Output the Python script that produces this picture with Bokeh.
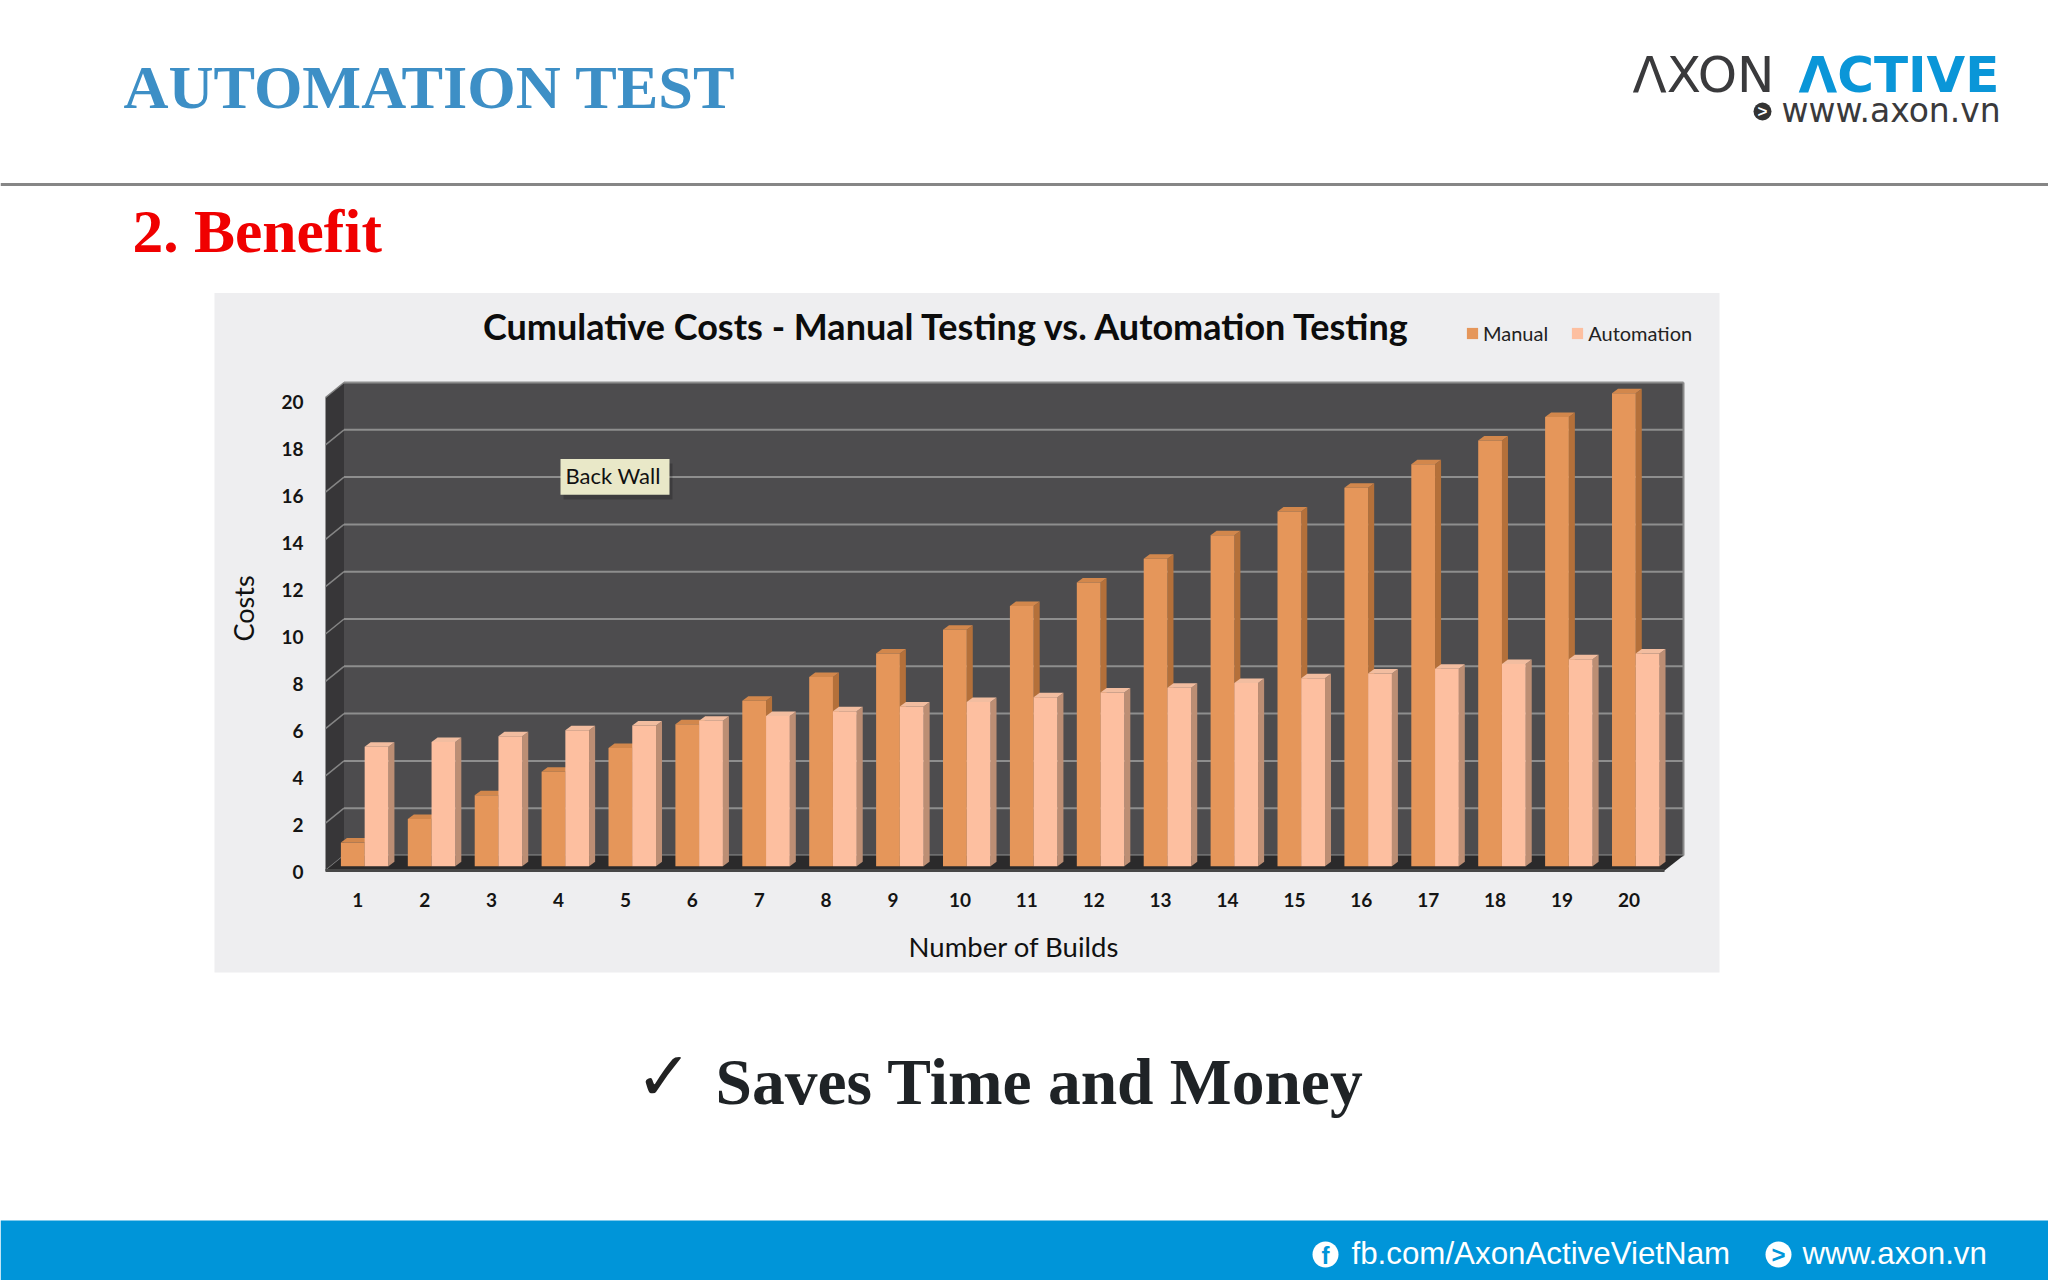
from bokeh.plotting import figure
from bokeh.models import Label, BoxAnnotation, Legend, LegendItem, FixedTicker, Range1d
from bokeh.embed import file_html
from bokeh.resources import INLINE

builds = list(range(1, 21))
manual = [1, 2, 3, 4, 5, 6, 7, 8, 9, 10, 11, 12, 13, 14, 15, 16, 17, 18, 19, 20]
automation = [5.05, 5.25, 5.5, 5.75, 5.95, 6.15, 6.35, 6.55, 6.75, 6.95,
              7.15, 7.35, 7.55, 7.75, 7.95, 8.15, 8.35, 8.55, 8.75, 9.0]
y_ticks = [0, 2, 4, 6, 8, 10, 12, 14, 16, 18, 20]

# layout in reference pixels: the frame fills the whole canvas
W, H = 2048, 1280
PX_X, PX_Y = 66.9, 23.65
X0_PX, Y0_PX = 357.3, 870

def X(px):
    return 1 + (px - X0_PX) / PX_X

def Y(py):
    return (Y0_PX - py) / PX_Y

p = figure(width=W, height=H, output_backend="svg", toolbar_location=None,
           x_range=(X(0), X(W)), y_range=(Y(H), Y(0)),
           min_border=0, background_fill_color="#FFFFFF", border_fill_color="#FFFFFF",
           outline_line_color=None)
p.grid.visible = False

def box(l, r, t, b, color, alpha=1.0, level="underlay", **kw):
    a = BoxAnnotation(left=X(l), right=X(r), top=Y(t), bottom=Y(b), fill_color=color,
                      fill_alpha=alpha, line_color=None, level=level, **kw)
    p.add_layout(a)

def text(s, px, py, size, color, font="Liberation Serif", style="normal", align="left", angle=0):
    p.add_layout(Label(x=X(px), y=Y(py), text=s, text_font=font, text_font_size=f"{size}px",
                       text_font_style=style, text_color=color, text_align=align,
                       text_baseline="middle", angle=angle))

# slide furniture
box(214, 1719, 292.5, 972, "#EEEEF0")
box(0, W, 182.5, 185.5, "#868686")
box(0, W, 1220, H, "#0095D9")

text("AUTOMATION TEST", 123, 86, 62.3, "#3D8FC6", style="bold")
text("2. Benefit", 132, 230, 61.5, "#F00000", style="bold")
text("\u2713", 635, 1076, 68, "#222222", font="DejaVu Sans")
text("Saves Time and Money", 715, 1081, 65.5, "#1F2326", style="bold")

text("\u039bXON", 1632, 74, 50, "#3A3A3C", font="DejaVu Sans")
text("\u039bCTIVE", 1798, 74, 50, "#0A96D8", font="DejaVu Sans", style="bold")
text("www.axon.vn", 1781, 110, 33, "#3A3A3C", font="DejaVu Sans")
box(1753, 1771, 102, 120, "#333333", border_radius=9)
text(">", 1762, 111, 17, "#FFFFFF", font="Liberation Sans", style="bold", align="center")

box(1312, 1338, 1241, 1267, "#FFFFFF", border_radius=13)
text("f", 1325, 1255, 24, "#0095D9", font="Liberation Sans", style="bold", align="center")
text("fb.com/AxonActiveVietNam", 1351, 1253, 31.3, "#FFFFFF", font="Liberation Sans")
box(1765, 1791, 1241, 1267, "#FFFFFF", border_radius=13)
text(">", 1778, 1254, 24, "#0095D9", font="Liberation Sans", style="bold", align="center")
text("www.axon.vn", 1802, 1253, 31.3, "#FFFFFF", font="Liberation Sans")

# chart texts
text("Cumulative Costs - Manual Testing vs. Automation Testing", 947, 325, 36, "#0C0C0C",
     font="Lato", style="bold", align="center")
text("Costs", 243, 608, 27, "#111111", font="Lato", align="center", angle=1.5708)
text("Number of Builds", 1013.5, 946, 27.5, "#111111", font="Lato", align="center")

# 3D box: wall, floor
wall_dy = 0.634
wall_dx = 18.5 / PX_X
x_l = X(325)
x_wall_l = x_l + wall_dx
x_wall_r = X(1683)
x_floor_r = x_wall_r - 19 / PX_X

p.patch([x_wall_l, x_wall_r, x_wall_r, x_wall_l],
        [wall_dy, wall_dy, 20 + wall_dy, 20 + wall_dy], fill_color="#4D4C4E", line_color=None)
p.patch([x_l, x_wall_l, x_wall_l, x_l],
        [0, wall_dy, 20 + wall_dy, 20], fill_color="#373638", line_color=None)
grid_y = [v + wall_dy for v in y_ticks]
p.segment([x_wall_l] * len(grid_y), grid_y, [x_wall_r] * len(grid_y), grid_y,
          line_color="#8E8E8E", line_width=2)
p.segment([x_l] * len(y_ticks), y_ticks, [x_wall_l] * len(y_ticks), grid_y,
          line_color="#858585", line_width=1.5)
p.segment([x_wall_r], [wall_dy], [x_wall_r], [20 + wall_dy], line_color="#8A8A8A", line_width=2)
p.patch([x_l, x_wall_l, x_wall_r, x_floor_r], [0, wall_dy, wall_dy, 0],
        fill_color="#2B2A2B", line_color=None)
p.segment([x_l], [0], [x_floor_r], [0], line_color="#474747", line_width=3)

# bars
bar_w = 0.355
base = 0.18
dx = 0.09
dy = 0.19

def bars(values, offset, front, side, top):
    lefts = [n + offset - bar_w / 2 for n in builds]
    rights = [n + offset + bar_w / 2 for n in builds]
    tops = [v + base for v in values]
    p.patches([[r, r + dx, r + dx, r] for r in rights],
              [[base, base + dy, t + dy, t] for t in tops],
              fill_color=side, line_color=None)
    p.patches([[l, l + dx, r + dx, r] for l, r in zip(lefts, rights)],
              [[t, t + dy, t + dy, t] for t in tops],
              fill_color=top, line_color=None)
    return p.vbar(x=[n + offset for n in builds], width=bar_w, bottom=base, top=tops,
                  fill_color=front, line_color=None)

r_manual = bars(manual, -0.075, "#E5965A", "#B4703A", "#D2874C")
r_auto = bars(automation, 0.28, "#FDBFA0", "#BC8E74", "#F2BDA0")

# tooltip
box(563, 672, 463, 499, "#000000", alpha=0.2, level="annotation")
box(560, 669, 458.6, 494.3, "#E9E8C8", level="annotation")
text("Back Wall", 565, 475, 22, "#111111", font="Lato")

# axes: the value labels sit on their own slightly tighter scale, as in the picture
AXIS_PX_Y, AXIS_Y0_PX = 23.5, 871
p.extra_y_ranges = {"labels": Range1d((AXIS_Y0_PX - H) / AXIS_PX_Y, AXIS_Y0_PX / AXIS_PX_Y)}
p.yaxis.y_range_name = "labels"
p.xaxis.ticker = FixedTicker(ticks=builds)
p.yaxis.ticker = FixedTicker(ticks=y_ticks)
p.xaxis.fixed_location = 0
p.yaxis.fixed_location = x_l
for ax in (p.xaxis, p.yaxis):
    ax.axis_line_color = None
    ax.major_tick_line_color = None
    ax.minor_tick_line_color = None
    ax.major_tick_in = 0
    ax.major_tick_out = 0
    ax.major_label_text_font = "Lato"
    ax.major_label_text_font_style = "bold"
    ax.major_label_text_font_size = "19px"
    ax.major_label_text_color = "#141414"
p.xaxis.major_label_standoff = 22
p.yaxis.major_label_standoff = 22

legend = Legend(items=[LegendItem(label="Manual", renderers=[r_manual]),
                       LegendItem(label="Automation", renderers=[r_auto])],
                orientation="horizontal", location=(1465, 935),
                background_fill_alpha=0, border_line_color=None, padding=0, margin=0,
                spacing=22, glyph_width=14, glyph_height=14, label_standoff=4,
                label_text_font="Lato", label_text_font_size="20px", label_text_color="#222222")
p.add_layout(legend)

open("out.html", "w").write(file_html(p, INLINE))
